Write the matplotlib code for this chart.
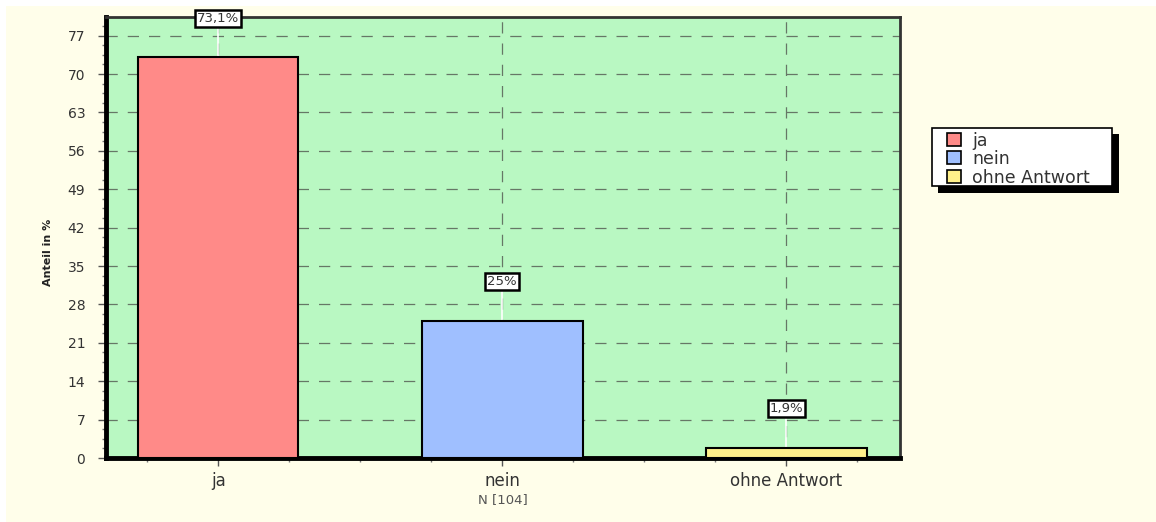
import matplotlib
matplotlib.use("Agg")
import matplotlib.pyplot as plt
from matplotlib.ticker import MultipleLocator
from matplotlib.patches import Rectangle

categories = ["ja", "nein", "ohne Antwort"]
values = [73.1, 25.0, 1.9]
value_labels = ["73,1%", "25%", "1,9%"]
colors = ["#FF8A88", "#9FBFFF", "#FFF08A"]
y_ticks = list(range(0, 78, 7))
n_label = "N [104]"
y_label = "Anteil in %"

plt.rcParams['font.family'] = ['DejaVu Sans']

W, H = 1156, 522
fig = plt.figure(figsize=(W / 100, H / 100), dpi=100)
fig.patch.set_facecolor("#FFFEEA")
# white margin strips on top/left
fig.patches.append(Rectangle((0, 1 - 6 / H), 1, 6 / H, transform=fig.transFigure,
                             facecolor="white", edgecolor="none", zorder=-10))
fig.patches.append(Rectangle((0, 0), 6 / W, 1, transform=fig.transFigure,
                             facecolor="white", edgecolor="none", zorder=-10))

ax = fig.add_axes([106 / W, 1 - 458 / H, (900 - 106) / W, (458 - 17) / H])
ax.set_facecolor("#B9F8C2")
x = list(range(len(categories)))
ax.bar(x, values, width=0.565, color=colors, edgecolor="black", linewidth=1.5, zorder=3)

ax.set_xlim(-0.395, 2.4)
ax.set_ylim(0, 80.4)
ax.set_yticks(y_ticks)
ax.yaxis.set_minor_locator(MultipleLocator(1.75))
ax.set_xticks(x)
ax.set_xticklabels(categories)
ax.xaxis.set_minor_locator(MultipleLocator(0.25))
ax.tick_params(axis="both", which="major", direction="out", length=6, width=1, color="#555555")
ax.tick_params(axis="both", which="minor", direction="out", length=3, width=1, color="#777777")
ax.tick_params(axis="y", labelsize=10, labelcolor="#333333", pad=9)
ax.tick_params(axis="x", labelsize=12, labelcolor="#333333", pad=4)

ax.grid(True, which="major", axis="both", linestyle=(0, (9, 8)), color="#667766", linewidth=0.9, zorder=1)
ax.set_axisbelow(True)

for s in ["left", "bottom"]:
    ax.spines[s].set_linewidth(3.5)
    ax.spines[s].set_color("black")
for s in ["top", "right"]:
    ax.spines[s].set_linewidth(2)
    ax.spines[s].set_color("#333333")

for xi, v, lab in zip(x, values, value_labels):
    ly = v + 7.1
    ax.plot([xi, xi], [v, ly], color="white", linewidth=1.2, zorder=2)
    ax.text(xi, ly, lab, ha="center", va="center", fontsize=9.5, color="#333333", zorder=5,
            bbox=dict(boxstyle="square,pad=0.15", facecolor="white", edgecolor="black", linewidth=1.8),
            clip_on=False)

ax.set_xlabel(n_label, fontsize=9.5, color="#555555", labelpad=2)
fig.text(48 / W, 1 - 252 / H, y_label, rotation=90, ha="center", va="center",
         fontsize=8, fontweight="bold", color="#222222")

# legend box (drawn manually to match the reference geometry)
def px_rect(x0, y0, x1, y1, **kw):
    return Rectangle((x0 / W, 1 - y1 / H), (x1 - x0) / W, (y1 - y0) / H,
                     transform=fig.transFigure, **kw)

fig.patches.append(px_rect(938, 134, 1119, 193, facecolor="black", edgecolor="none", zorder=4))
fig.patches.append(px_rect(932, 128, 1112, 186, facecolor="white", edgecolor="black",
                           linewidth=1.2, zorder=5))
for i, (c, lab) in enumerate(zip(colors, categories)):
    yc = 139 + i * 18.5
    fig.patches.append(px_rect(947, yc - 6.5, 961, yc + 6.5, facecolor=c, edgecolor="black",
                               linewidth=1.2, zorder=6))
    fig.text(972 / W, 1 - yc / H, lab, ha="left", va="center_baseline", fontsize=12.5,
             color="#333333", zorder=6)

fig.savefig("out.png", dpi=100)
